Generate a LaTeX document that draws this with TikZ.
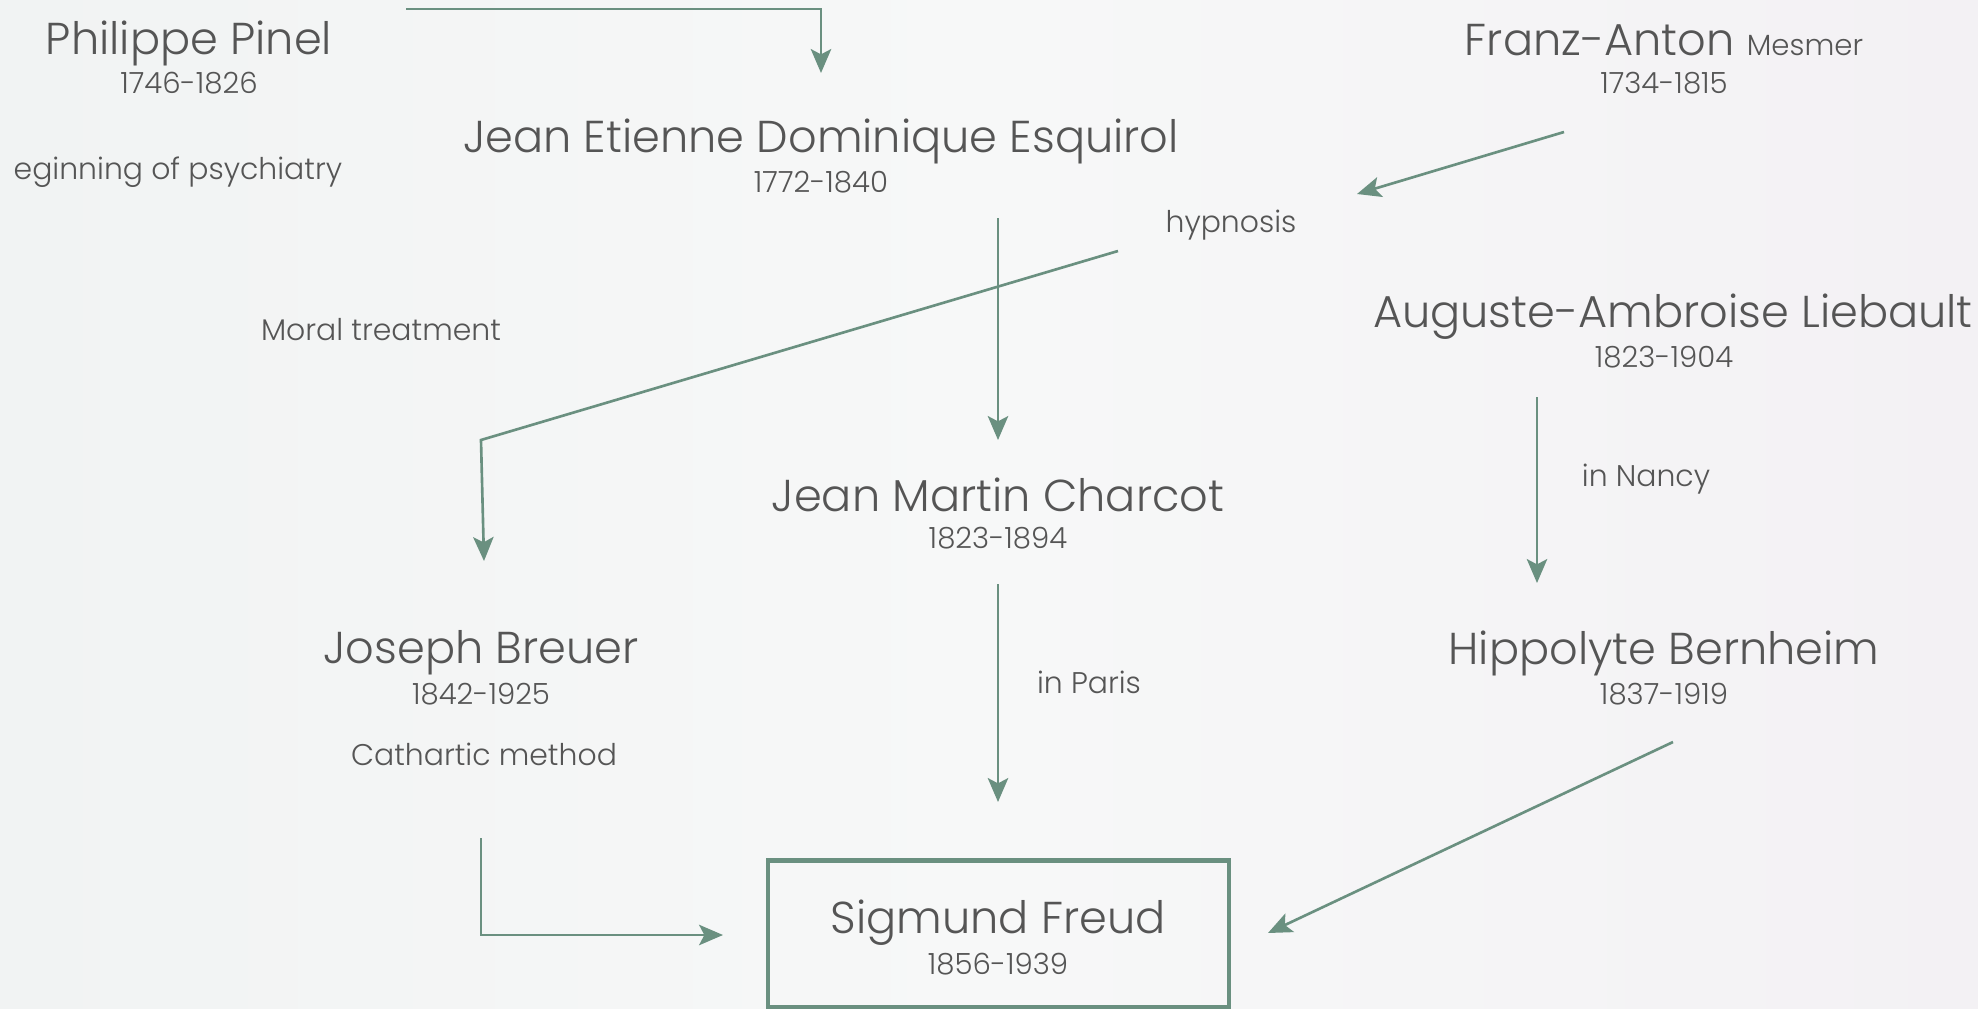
\documentclass[tikz,border=0pt]{standalone}
\usepackage{fontspec}
\setmainfont{Poppins}[UprightFont=* Light]
\usetikzlibrary{arrows.meta}

\definecolor{bgleft}{HTML}{F1F3F3}
\definecolor{bgmid}{HTML}{F7F8F8}
\definecolor{bgright}{HTML}{F3F1F4}
\definecolor{link}{HTML}{6A9080}
\definecolor{ink}{HTML}{555555}

\tikzset{
  person/.style={text=ink, inner sep=0pt, font=\fontsize{12.7}{15}\selectfont},
  years/.style={text=ink, inner sep=0pt, font=\fontsize{8.3}{10}\selectfont},
  note/.style={text=ink, inner sep=0pt, font=\fontsize{8.5}{10}\selectfont},
  link/.style={draw=link, line width=0.75pt, -{Stealth[length=6.8pt,width=5.8pt,inset=1.5pt]}},
  framebox/.style={draw=link, line width=1.25pt, minimum width=4.61cm, minimum height=1.47cm, inner sep=0pt}
}

\begin{document}
\begin{tikzpicture}[x=0.01cm, y=-0.01cm]
  % page and soft background wash
  \useasboundingbox (0,0) rectangle (1978,1009);
  \shade[left color=bgleft, right color=bgright, middle color=bgmid] (0,0) rectangle (1978,1009);

  % people
  \node[person] (pinel) at (189,43) {Philippe Pinel};
  \node[years] (pinelD) at (189,83) {1746-1826};
  \node[note, anchor=west] (begin) at (13,172) {eginning of psychiatry};

  \node[person] (esq) at (821,141) {Jean Etienne Dominique Esquirol};
  \node[years] (esqD) at (821,182) {1772-1840};

  \node[person] (mesmer) at (1664,40) {Franz-Anton {\fontsize{8.3}{10}\selectfont Mesmer}};
  \node[years] (mesmerD) at (1664,83) {1734-1815};

  \node[note] (hyp) at (1231,225) {hypnosis};

  \node[person] (lieb) at (1673,317) {Auguste-Ambroise Liebault};
  \node[years] (liebD) at (1664,357) {1823-1904};

  \node[note] (moral) at (381,330) {Moral treatment};

  \node[person] (charcot) at (998,495) {Jean Martin Charcot};
  \node[years] (charcotD) at (998,538) {1823-1894};

  \node[note] (nancy) at (1646,479) {in Nancy};

  \node[person] (breuer) at (481,653) {Joseph Breuer};
  \node[years] (breuerD) at (481,694) {1842-1925};
  \node[note] (cath) at (484,754) {Cathartic method};

  \node[note] (paris) at (1089,682) {in Paris};

  \node[person] (bern) at (1664,653) {Hippolyte Bernheim};
  \node[years] (bernD) at (1664,694) {1837-1919};

  \node[framebox] (box) at (998.5,934) {};
  \node[person] (freud) at (998,923) {Sigmund Freud};
  \node[years] (freudD) at (998,964) {1856-1939};

  % connector end points
  \coordinate (pinelOut) at (406,9);
  \coordinate (esqIn) at (821,73);
  \coordinate (mesmerOut) at (1564,132);
  \coordinate (hypIn) at (1357,194);
  \coordinate (hypOut) at (1118,251);
  \coordinate (hypBend) at (481,440);
  \coordinate (breuerIn) at (484,561);
  \coordinate (esqOut) at (998,218);
  \coordinate (charcotIn) at (998,440);
  \coordinate (liebOut) at (1537,397);
  \coordinate (bernIn) at (1537,583);
  \coordinate (charcotOut) at (998,584);
  \coordinate (freudTop) at (998,802);
  \coordinate (breuerOut) at (481,838);
  \coordinate (freudLeft) at (723,935);
  \coordinate (bernOut) at (1673,742);
  \coordinate (freudRight) at (1268,933);

  % connectors
  \draw[link] (pinelOut) -| (esqIn);
  \draw[link] (mesmerOut) -- (hypIn);
  \draw[link] (hypOut) -- (hypBend) -- (breuerIn);
  \draw[link] (esqOut) -- (charcotIn);
  \draw[link] (liebOut) -- (bernIn);
  \draw[link] (charcotOut) -- (freudTop);
  \draw[link] (breuerOut) |- (freudLeft);
  \draw[link] (bernOut) -- (freudRight);
\end{tikzpicture}
\end{document}
